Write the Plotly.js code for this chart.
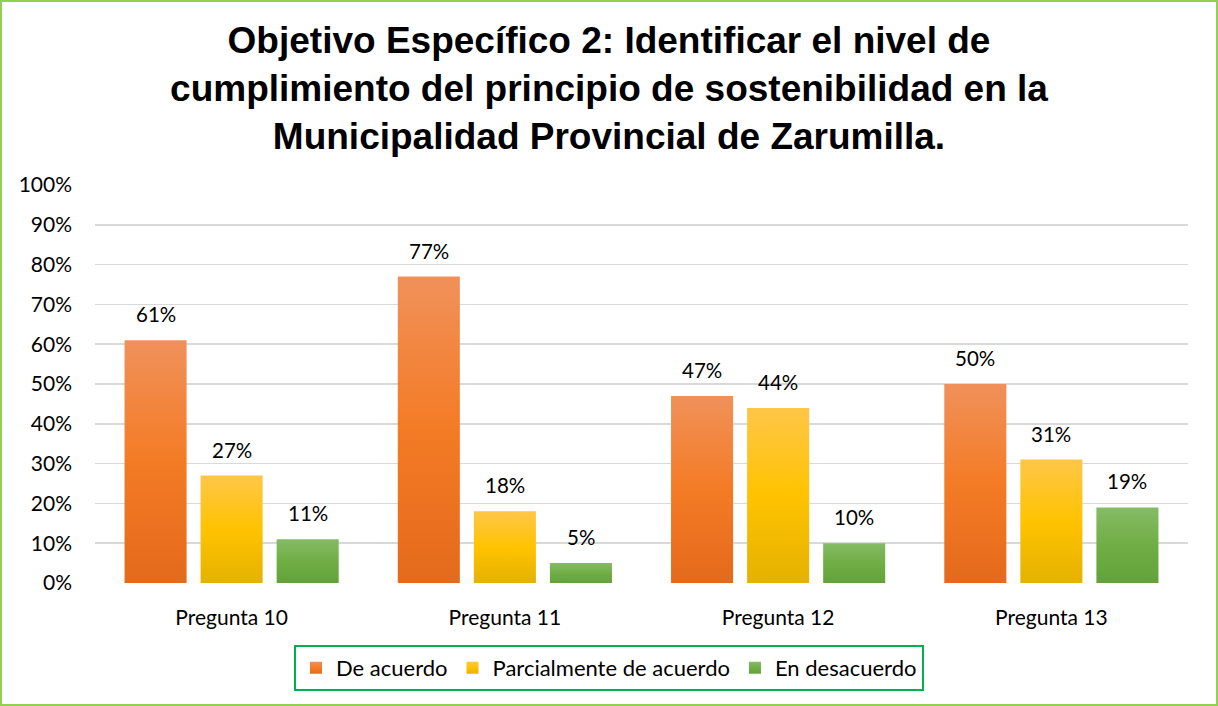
<!DOCTYPE html>
<html>
<head>
<meta charset="utf-8">
<script src="https://cdn.plot.ly/plotly-3.0.1.min.js"></script>
<style>
  html, body { margin: 0; padding: 0; background: #fff; }
  #wrap { position: relative; width: 1218px; height: 706px; }
  #chart { position: absolute; left: 0; top: 0; width: 1218px; height: 706px; }
  #frame { position: absolute; left: 0; top: 0; width: 1218px; height: 706px; box-sizing: border-box; border: 2px solid #92D050; pointer-events: none; }
</style>
</head>
<body>
<div id="wrap"><div id="chart"></div><div id="frame"></div></div>
<script>
const categories = ["Pregunta 10", "Pregunta 11", "Pregunta 12", "Pregunta 13"];
const seriesNames = ["De acuerdo", "Parcialmente de acuerdo", "En desacuerdo"];
const deAcuerdo = [0.61, 0.77, 0.47, 0.50];
const parcialmente = [0.27, 0.18, 0.44, 0.31];
const enDesacuerdo = [0.11, 0.05, 0.10, 0.19];
const yTickVals = [0, 0.1, 0.2, 0.3, 0.4, 0.5, 0.6, 0.7, 0.8, 0.9, 1.0];
const yTickText = ["0%", "10%", "20%", "30%", "40%", "50%", "60%", "70%", "80%", "90%", "100%"];

const seriesValues = [deAcuerdo, parcialmente, enDesacuerdo];
const colors = ["#F07F2E", "#FFC20E", "#72AE4A"];
const gradients = [
  ["#F0915A", "#F47B25", "#E46A1C"],
  ["#FFC648", "#FFC300", "#E5B200"],
  ["#86BB66", "#70AE45", "#63A23A"]
];
const FONT = "Lato, 'Open Sans', sans-serif";

const traces = seriesValues.map((vals, i) => ({
  type: "bar",
  name: seriesNames[i],
  x: categories,
  y: vals,
  marker: { color: colors[i] },
  hoverinfo: "skip"
}));

// data labels as annotations above each bar
const slotPx = 76; // px width of each bar slot in a group
const annotations = [];
seriesValues.forEach((vals, i) => {
  vals.forEach((v, j) => {
    annotations.push({
      x: categories[j], y: v, xref: "x", yref: "y",
      text: Math.round(v * 100) + "%",
      showarrow: false,
      xshift: (i - 1) * slotPx,
      yshift: 26,
      font: { family: FONT, size: 20.5, color: "#000" }
    });
  });
});

const layout = {
  width: 1218, height: 706,
  paper_bgcolor: "#fff", plot_bgcolor: "#fff",
  margin: { l: 95, r: 30, t: 185, b: 123 },
  title: {
    text: "<b>Objetivo Específico 2: Identificar el nivel de<br>cumplimiento del principio de sostenibilidad en la<br>Municipalidad Provincial de Zarumilla.</b>",
    x: 0.5, xref: "container", xanchor: "center",
    y: 0.925, yref: "container", yanchor: "middle",
    font: { family: "'Liberation Sans', Arial, sans-serif", size: 37, color: "#000" }
  },
  barmode: "group",
  bargap: 0.165,
  bargroupgap: 0.184,
  xaxis: {
    showline: false, zeroline: false, showgrid: false,
    ticks: "", ticklabelstandoff: 20,
    tickfont: { family: FONT, size: 21, color: "#000" },
    fixedrange: true
  },
  yaxis: {
    range: [0, 1.0], tickvals: yTickVals, ticktext: yTickText,
    showline: false, zeroline: false,
    showgrid: true, gridcolor: "#D9D9D9", gridwidth: 1.5,
    ticks: "", ticklabelstandoff: 22,
    tickfont: { family: FONT, size: 21, color: "#000" },
    fixedrange: true
  },
  legend: {
    orientation: "h",
    x: 0.5, xref: "container", xanchor: "center",
    y: 0.0865, yref: "container", yanchor: "top",
    bordercolor: "#00B050", borderwidth: 2,
    bgcolor: "#fff",
    font: { family: FONT, size: 22, color: "#000" },
    itemclick: false, itemdoubleclick: false,
    traceorder: "normal"
  },
  annotations: annotations,
  showlegend: true
};

Plotly.newPlot("chart", traces, layout, { displayModeBar: false, staticPlot: true }).then(gd => {
  const svg = gd.querySelector(".main-svg");
  const ns = "http://www.w3.org/2000/svg";
  let defs = svg.querySelector("defs");
  if (!defs) { defs = document.createElementNS(ns, "defs"); svg.insertBefore(defs, svg.firstChild); }
  gradients.forEach((g, i) => {
    const lg = document.createElementNS(ns, "linearGradient");
    lg.setAttribute("id", "barGrad" + i);
    lg.setAttribute("x1", "0"); lg.setAttribute("y1", "0");
    lg.setAttribute("x2", "0"); lg.setAttribute("y2", "1");
    [[0, g[0]], [0.5, g[1]], [1, g[2]]].forEach(([o, c]) => {
      const s = document.createElementNS(ns, "stop");
      s.setAttribute("offset", o); s.setAttribute("stop-color", c);
      lg.appendChild(s);
    });
    defs.appendChild(lg);
  });
  gd.querySelectorAll(".barlayer .trace").forEach((t, i) => {
    t.querySelectorAll("path").forEach(p => { p.style.fill = "url(#barGrad" + i + ")"; });
  });
  gd.querySelectorAll(".legend .traces").forEach((t, i) => {
    t.querySelectorAll(".legendpoints path").forEach(p => { p.style.fill = "url(#barGrad" + i + ")"; p.style.stroke = "none"; });
  });
});
</script>
</body>
</html>
